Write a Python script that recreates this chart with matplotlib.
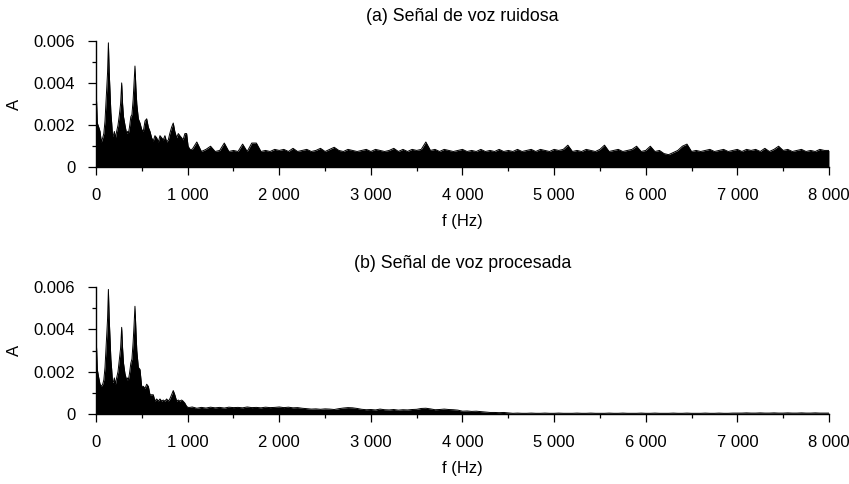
import numpy as np
import matplotlib.pyplot as plt
from matplotlib.ticker import MultipleLocator

plt.rcParams['font.family'] = ['Liberation Sans', 'DejaVu Sans']
plt.rcParams['font.size'] = 12

# spectrum below 1 kHz: (frequency in Hz, amplitude in units of 1e-4)
low_f = [0, 7, 14, 30, 44, 58, 73, 85, 98, 108, 116, 126, 135, 144, 153, 162,
         171, 180, 189, 200, 212, 225, 240, 255, 268, 280, 290, 300, 316, 334,
         345, 353, 365, 380, 392, 405, 415, 425, 435, 445, 462, 480, 498, 516,
         535, 553, 571, 589, 607, 625, 643, 662, 680, 698, 716, 734, 752, 771,
         789, 805, 825, 843, 860, 880, 898, 915, 934, 950, 970, 989, 1005, 1025]

noisy_low = [37, 30, 21, 19, 17, 12, 14, 16, 22, 30, 36, 45, 59, 45, 36, 26,
             21, 15, 15, 17, 14, 17, 20, 25, 30, 40, 30, 24, 20, 16,
             17, 16, 19, 24, 25, 32, 40, 48, 38, 30, 23, 21, 18, 17,
             22, 23, 19, 17, 14, 12.5, 15, 14, 12, 15, 14, 13, 15, 12,
             13, 16, 19, 21, 17, 14, 16, 15, 14, 13, 16, 16, 10, 8.5]

clean_low = [37, 30, 21, 17, 14, 13, 14, 16, 22, 30, 36, 45, 59, 45, 36, 26,
             21, 15, 15, 17, 14, 17, 20, 26, 31, 41, 31, 24, 19, 16,
             17, 16, 19, 24, 26, 34, 42, 51, 40, 30, 22, 21, 13, 13,
             12, 14, 13, 9, 9, 9, 6, 7, 6, 7, 6, 6.5, 6, 7,
             6, 7, 9, 11, 9, 6, 6.5, 6, 6.5, 6, 5, 3.5, 3, 3]

# spectrum from 1050 Hz to 8 kHz, one value every 50 Hz (units of 1e-4)
high_f = np.arange(1050, 8001, 50)

noisy_high = [8.5, 12, 7.5, 8.5, 10, 7.5, 8, 11.5, 7.5, 8,
              7.5, 11, 7.5, 11.5, 11.5, 7.5, 8, 7.5, 8.5, 8,
              8.5, 7.5, 9, 7.5, 8, 8.5, 7.5, 8, 9, 7.5,
              8.5, 9.5, 8, 7.5, 8.5, 8, 7.5, 8, 8.5, 7.5,
              8.5, 8, 7.5, 8, 9, 7.5, 8.5, 7.5, 8.5, 8,
              8.5, 12, 8, 8.5, 7.5, 8.5, 8, 7.5, 8, 8.5,
              7.5, 8, 7.5, 8.5, 7.5, 8, 7.5, 8.5, 7.5, 8,
              7.5, 8.5, 7.5, 8, 8.5, 7.5, 8.5, 8, 7.5, 8.5,
              8, 8.5, 10.5, 7.5, 8, 7.5, 8.5, 8, 7.5, 8.5,
              10.5, 7.5, 8, 8.5, 7.5, 8, 8.5, 10, 7.5, 8,
              10, 7.5, 8, 6.5, 6, 7, 8, 10, 11, 7.5,
              8, 7.5, 8, 8.5, 7.5, 8, 8.5, 7.5, 8, 8.5,
              7.5, 8.5, 8, 8.5, 7.5, 9, 7.5, 8.5, 10, 8,
              8.5, 7.5, 8, 8.5, 7.5, 8, 7.5, 8.5, 8, 8]

clean_high = [3.2, 2.6, 3.0, 2.7, 3.1, 2.8, 3.0, 2.7, 3.1, 2.9,
              3.0, 2.8, 3.2, 2.9, 3.0, 2.8, 3.1, 2.9, 3.0, 3.2,
              2.9, 3.1, 2.8, 2.9, 2.6, 2.4, 2.2, 2.3, 2.1, 2.3,
              2.2, 2.0, 2.4, 2.7, 2.9, 2.8, 2.5, 2.1, 1.9, 2.0,
              1.8, 2.2, 1.9, 1.8, 2.0, 1.7, 1.9, 1.8, 2.0, 2.1,
              2.5, 2.6, 2.3, 1.9, 2.0, 2.2, 2.0, 1.9, 1.7, 1.2,
              1.3, 1.1, 1.2, 1.0, 0.8, 0.6, 0.6, 0.5, 0.6, 0.4,
              0.2, 0.3, 0.2, 0.2, 0.3, 0.2, 0.2, 0.3, 0.2, 0.2,
              0.3, 0.2, 0.2, 0.2, 0.3, 0.2, 0.2, 0.3, 0.2, 0.2,
              0.2, 0.3, 0.2, 0.2, 0.3, 0.2, 0.2, 0.2, 0.3, 0.2,
              0.2, 0.3, 0.2, 0.2, 0.2, 0.3, 0.2, 0.2, 0.3, 0.2,
              0.2, 0.2, 0.3, 0.2, 0.2, 0.3, 0.2, 0.2, 0.3, 0.3,
              0.3, 0.4, 0.3, 0.3, 0.4, 0.3, 0.3, 0.4, 0.3, 0.3,
              0.4, 0.3, 0.3, 0.4, 0.3, 0.3, 0.4, 0.3, 0.3, 0.3]

titles = ['(a) Señal de voz ruidosa', '(b) Señal de voz procesada']
x_ticks = [0, 1000, 2000, 3000, 4000, 5000, 6000, 7000, 8000]
x_labels = ['0', '1 000', '2 000', '3 000', '4 000', '5 000', '6 000', '7 000', '8 000']
y_ticks = [0, 0.002, 0.004, 0.006]
y_labels = ['0', '0.002', '0.004', '0.006']

freq = np.concatenate([low_f, high_f])
spectra = [np.concatenate([noisy_low, noisy_high]) * 1e-4,
           np.concatenate([clean_low, clean_high]) * 1e-4]

fig = plt.figure(figsize=(8.49, 4.84), dpi=100)
boxes = [[0.1131, 0.6543, 0.8633, 0.2616], [0.1131, 0.1452, 0.8633, 0.2612]]

for box, amp, title in zip(boxes, spectra, titles):
    ax = fig.add_axes(box)
    ax.fill_between(freq, 0, amp, color='black', lw=0)
    ax.plot(freq, amp, color='black', lw=0.7)

    ax.set_xlim(0, 8000)
    ax.set_ylim(0, 0.006)
    ax.set_xticks(x_ticks)
    ax.set_xticklabels(x_labels)
    ax.set_yticks(y_ticks)
    ax.set_yticklabels(y_labels)
    ax.xaxis.set_minor_locator(MultipleLocator(500))
    ax.yaxis.set_minor_locator(MultipleLocator(0.001))
    ax.tick_params(which='major', direction='out', length=6, width=0.9, pad=9)
    ax.tick_params(which='minor', direction='out', length=3, width=0.9)

    for side in ['top', 'right']:
        ax.spines[side].set_visible(False)
    for side in ['left', 'bottom']:
        ax.spines[side].set_linewidth(1.0)

    ax.set_xlabel('f (Hz)', labelpad=8)
    ax.set_ylabel('A', labelpad=8)
    ax.set_title(title, fontsize=12.8, pad=14)

fig.savefig('out.png', dpi=100)
